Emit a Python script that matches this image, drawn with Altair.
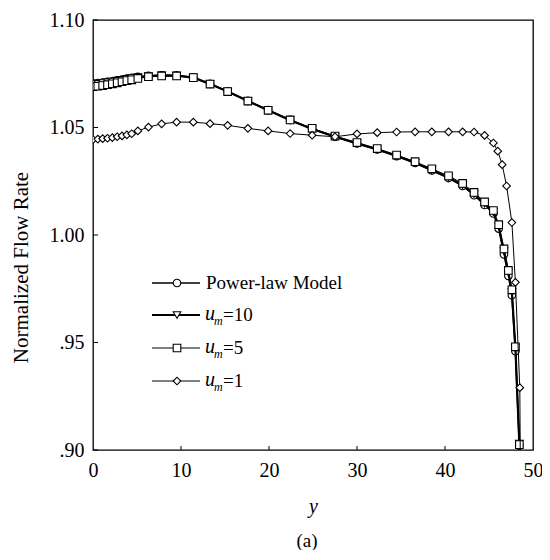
import altair as alt
import pandas as pd

# ---------------- data ----------------
x_grid = [0, 0.55, 1.1, 1.65, 2.2, 2.75, 3.3, 3.85, 4.4,
          5.1, 6.3, 7.8, 9.5, 11.4, 13.3, 15.3, 17.6, 19.9,
          22.4, 24.9, 27.5, 30.0, 32.3, 34.5, 36.6, 38.5, 40.4,
          42.0, 43.3, 44.5, 45.5, 46.1, 46.7, 47.2, 47.6, 48.0, 48.45]

power_law = [1.0705, 1.0707, 1.0709, 1.0712, 1.0715, 1.0719, 1.0723, 1.0727, 1.0731,
             1.0735, 1.0740, 1.0743, 1.0742, 1.0733, 1.0703, 1.0668, 1.0624, 1.0581,
             1.0535, 1.0494, 1.0457, 1.0426, 1.0398, 1.0367, 1.0335, 1.0300, 1.0265,
             1.0228, 1.0185, 1.0140, 1.0100, 1.0030, 0.9910, 0.9810, 0.9720, 0.9460, 0.9020]

um10 = [1.0702, 1.0704, 1.0707, 1.0710, 1.0714, 1.0718, 1.0722, 1.0726, 1.0730,
        1.0734, 1.0739, 1.0742, 1.0741, 1.0732, 1.0702, 1.0667, 1.0623, 1.0580,
        1.0534, 1.0493, 1.0457, 1.0426, 1.0398, 1.0368, 1.0336, 1.0302, 1.0268,
        1.0232, 1.0190, 1.0146, 1.0106, 1.0040, 0.9925, 0.9825, 0.9735, 0.9475, 0.9030]

um5 = [1.0690, 1.0692, 1.0695, 1.0699, 1.0703, 1.0708, 1.0713, 1.0718, 1.0722,
       1.0728, 1.0736, 1.0740, 1.0740, 1.0732, 1.0702, 1.0667, 1.0623, 1.0580,
       1.0535, 1.0496, 1.0460, 1.0430, 1.0402, 1.0372, 1.0341, 1.0308, 1.0275,
       1.0240, 1.0198, 1.0154, 1.0114, 1.0048, 0.9935, 0.9835, 0.9745, 0.9480, 0.9025]

x_um1 = [0, 0.55, 1.1, 1.65, 2.2, 2.75, 3.3, 3.85, 4.4,
         5.1, 6.3, 7.8, 9.5, 11.4, 13.3, 15.3, 17.6, 19.9,
         22.4, 24.9, 27.5, 30.0, 32.3, 34.5, 36.6, 38.5, 40.4,
         42.0, 43.3, 44.5, 45.5, 46.0, 46.5, 47.0, 47.6, 48.0, 48.5, 48.6]

um1 = [1.0444, 1.0446, 1.0448, 1.0450, 1.0453, 1.0457, 1.0461, 1.0466, 1.0471,
       1.0484, 1.0502, 1.0517, 1.0525, 1.0525, 1.0518, 1.0510, 1.0496, 1.0484,
       1.0472, 1.0464, 1.0457, 1.0470, 1.0476, 1.0479, 1.0480, 1.0480, 1.0480,
       1.0480, 1.0479, 1.0463, 1.0428, 1.0390, 1.0327, 1.0228, 1.0058, 0.9780, 0.9290, 0.8700]

x_tick_values = [0, 10, 20, 30, 40, 50]
y_tick_values = [0.90, 0.95, 1.00, 1.05, 1.10]

series_labels = ["Power-law Model", "=10", "=5", "=1"]
series_shapes = ["circle", "triangle-down", "square", "diamond"]
series_widths = [1.6, 2.2, 1.0, 1.0]

# ---------------- layout ----------------
W, H = 440, 430
FONT = "Liberation Serif"

xs = alt.Scale(domain=[0, 50], nice=False, zero=False)
ys = alt.Scale(domain=[0.90, 1.10], nice=False, zero=False)

x_axis = alt.Axis(values=x_tick_values, title="y", titleFontStyle="italic",
                  ticks=False, domain=False, grid=False, labelFlush=False,
                  labelPadding=10, titlePadding=16)
y_axis = alt.Axis(values=y_tick_values, title="Normalized Flow Rate",
                  ticks=False, domain=False, grid=False, labelFlush=False,
                  labelPadding=9, titleFontSize=21,
                  titleX=-66, titleY=247, titleAngle=270, titleAlign="center",
                  titleBaseline="alphabetic",
                  labelExpr="datum.value >= 1 ? format(datum.value, '.2f') : slice(format(datum.value, '.2f'), 1)")

xs_list = [x_grid, x_grid, x_grid, x_um1]
vals_list = [power_law, um10, um5, um1]

MS = 58
layers = []
for name, xv, yv, shp, sw in zip(series_labels, xs_list, vals_list, series_shapes, series_widths):
    df = pd.DataFrame({"x": xv, "v": yv})
    base = alt.Chart(df).encode(
        x=alt.X("x:Q", scale=xs, axis=x_axis),
        y=alt.Y("v:Q", scale=ys, axis=y_axis))
    layers.append(base.mark_line(color="black", strokeWidth=sw, clip=True))
    layers.append(base.mark_point(shape=shp, size=MS, filled=True, fill="white",
                                  stroke="black", strokeWidth=1.1, opacity=1, clip=True))

# inward tick marks
ydf = pd.DataFrame({"v": y_tick_values})
layers.append(alt.Chart(ydf).mark_rule(color="black", strokeWidth=1).encode(
    y=alt.Y("v:Q", scale=ys, axis=y_axis), x=alt.value(0), x2=alt.value(5)))
xdf = pd.DataFrame({"x": x_tick_values[1:-1]})
layers.append(alt.Chart(xdf).mark_rule(color="black", strokeWidth=1).encode(
    x=alt.X("x:Q", scale=xs, axis=x_axis), y=alt.value(H), y2=alt.value(H - 4)))

# legend (drawn manually so that the subscripts can be reproduced)
row_y = [263, 295, 328, 361]
one = pd.DataFrame({"k": [0]})
for i, (name, shp, sw) in enumerate(zip(series_labels, series_shapes, series_widths)):
    yy = row_y[i]
    layers.append(alt.Chart(one).mark_rule(color="black", strokeWidth=sw).encode(
        x=alt.value(59), x2=alt.value(107), y=alt.value(yy)))
    layers.append(alt.Chart(one).mark_point(shape=shp, size=MS, filled=True, fill="white",
                                            stroke="black", strokeWidth=1.1, opacity=1).encode(
        x=alt.value(84), y=alt.value(yy)))
    if i == 0:
        layers.append(alt.Chart(one).mark_text(text=name, font=FONT, fontSize=19, align="left",
                                               baseline="middle", color="black").encode(
            x=alt.value(113), y=alt.value(yy)))
    else:
        layers.append(alt.Chart(one).mark_text(text="u", font=FONT, fontSize=20, fontStyle="italic",
                                               align="left", baseline="middle", color="black").encode(
            x=alt.value(112), y=alt.value(yy - 1)))
        layers.append(alt.Chart(one).mark_text(text="m", font=FONT, fontSize=12, fontStyle="italic",
                                               align="left", baseline="middle", color="black").encode(
            x=alt.value(121), y=alt.value(yy + 6)))
        layers.append(alt.Chart(one).mark_text(text=name, font=FONT, fontSize=19, align="left",
                                               baseline="middle", color="black").encode(
            x=alt.value(130), y=alt.value(yy)))

# caption "(a)"
layers.append(alt.Chart(one).mark_text(text="(a)", font=FONT, fontSize=19, align="center",
                                       baseline="middle", color="black").encode(
    x=alt.value(214), y=alt.value(521)))

chart = alt.layer(*layers).properties(
    width=W, height=H,
    autosize=alt.AutoSizeParams(type="none"),
    padding={"left": 85, "top": 12, "right": 9, "bottom": 100},
    background="white",
).configure_view(stroke="black", strokeWidth=1.3).configure_axis(
    labelFont=FONT, labelFontSize=20, labelColor="black",
    titleFont=FONT, titleFontSize=20, titleFontWeight="normal", titleColor="black",
)

chart.save("out.html", embed_options={"renderer": "svg", "actions": False})
